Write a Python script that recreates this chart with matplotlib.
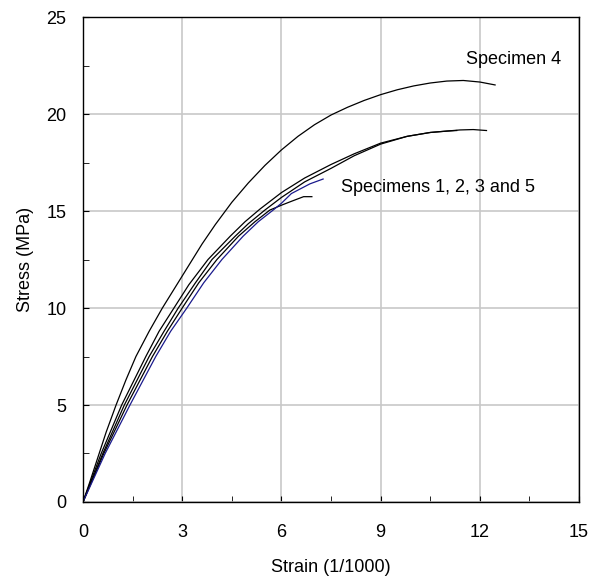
import numpy as np
import matplotlib
matplotlib.use("Agg")
import matplotlib.pyplot as plt

plt.rcParams['font.family'] = ['Liberation Sans', 'DejaVu Sans']

# Specimen 4
s4_strain = [0, 0.2, 0.45, 0.7, 1.0, 1.3, 1.6, 2.0, 2.4, 2.8, 3.2, 3.6, 4.0, 4.5, 5.0, 5.5,
             6.0, 6.5, 7.0, 7.5, 8.0, 8.5, 9.0, 9.5, 10.0, 10.5, 11.0, 11.5, 12.0, 12.46]
s4_stress = [0, 1.0, 2.3, 3.6, 5.0, 6.3, 7.5, 8.8, 10.0, 11.1, 12.2, 13.3, 14.3, 15.45, 16.45, 17.35,
             18.15, 18.85, 19.45, 19.95, 20.35, 20.7, 21.0, 21.25, 21.45, 21.6, 21.7, 21.73, 21.65, 21.5]

# Specimens 1, 2, 3 and 5
a_strain = [0, 0.55, 1.17, 1.9, 2.3, 2.75, 3.2, 3.78, 4.45, 4.9, 5.35, 6.0, 6.7, 7.5, 8.2, 9.0,
            9.8, 10.5, 11.4, 11.8, 12.2]
a_stress = [0, 2.5, 5.0, 7.5, 8.8, 10.0, 11.2, 12.5, 13.7, 14.45, 15.1, 15.95, 16.7, 17.4, 17.95,
            18.5, 18.85, 19.05, 19.18, 19.2, 19.15]

b_strain = [0, 0.6, 1.25, 2.0, 2.45, 2.88, 3.4, 3.9, 4.6, 5.0, 5.5, 6.0, 6.7, 7.5, 8.2, 9.0,
            9.8, 10.5, 11.0, 11.3]
b_stress = [0, 2.5, 5.0, 7.5, 8.8, 10.0, 11.3, 12.5, 13.7, 14.35, 15.05, 15.7, 16.5, 17.2, 17.85,
            18.45, 18.85, 19.05, 19.12, 19.15]

c_strain = [0, 0.63, 1.33, 2.1, 2.55, 3.0, 3.5, 4.05, 4.7, 5.2, 5.65, 6.0, 6.3, 6.67, 6.92]
c_stress = [0, 2.5, 5.0, 7.5, 8.8, 10.0, 11.3, 12.5, 13.7, 14.45, 15.05, 15.3, 15.5, 15.74, 15.74]

d_strain = [0, 0.67, 1.42, 2.2, 2.65, 3.14, 3.65, 4.2, 4.84, 5.3, 5.75, 6.0, 6.3, 6.86, 7.26]
d_stress = [0, 2.5, 5.0, 7.5, 8.8, 10.0, 11.3, 12.5, 13.7, 14.45, 15.05, 15.4, 15.9, 16.4, 16.65]

fig = plt.figure(figsize=(5.92, 5.78), dpi=100)
ax = fig.add_axes([0.1402, 0.1315, 0.838, 0.839])

ax.plot(s4_strain, s4_stress, color='black', lw=0.9)
ax.plot(a_strain, a_stress, color='black', lw=0.9)
ax.plot(b_strain, b_stress, color='black', lw=0.9)
ax.plot(c_strain, c_stress, color='black', lw=0.9)
ax.plot(d_strain, d_stress, color='#1a1a8c', lw=0.9)

ax.set_xlim(0, 15)
ax.set_ylim(0, 25)
ax.set_xticks([0, 3, 6, 9, 12, 15])
ax.set_yticks([0, 5, 10, 15, 20, 25])
ax.set_xticks(np.arange(1.5, 15, 3), minor=True)
ax.set_yticks(np.arange(2.5, 25, 5), minor=True)
ax.grid(True, which='major', color='#c8c8c8', lw=1.2)
ax.set_axisbelow(True)
ax.tick_params(which='both', direction='in', labelsize=13, color='black')
ax.tick_params(which='major', length=4)
ax.tick_params(which='minor', length=4)
ax.tick_params(axis='x', pad=16)
ax.tick_params(axis='y', pad=12)
for sp in ax.spines.values():
    sp.set_linewidth(1.0)

ax.set_xlabel('Strain (1/1000)', fontsize=13, labelpad=13)
ax.set_ylabel('Stress (MPa)', fontsize=13, labelpad=9)

ax.text(11.58, 22.8, 'Specimen 4', fontsize=13, va='center', ha='left')
ax.text(7.8, 16.2, 'Specimens 1, 2, 3 and 5', fontsize=13, va='center', ha='left')

fig.savefig('out.png', dpi=100)
